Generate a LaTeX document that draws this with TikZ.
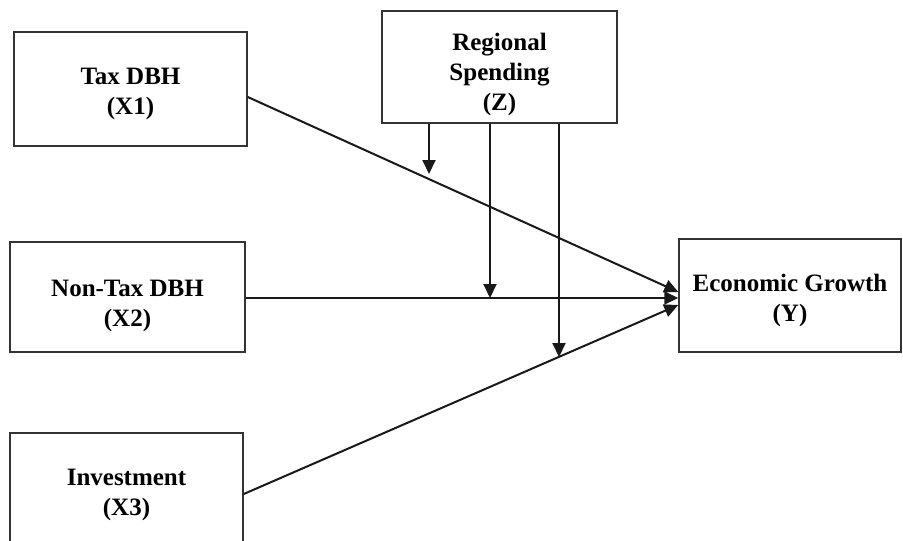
\documentclass[tikz,border=0pt]{standalone}
\usepackage{fontspec}
\setmainfont{Liberation Serif}
\usetikzlibrary{arrows.meta,calc}
\newcommand{\toppad}[1]{\rule{0pt}{#1pt}}
\begin{document}
\begin{tikzpicture}[x=1pt,y=-1pt,
  box/.style={draw=black!80, line width=1.5pt, rectangle, align=center,
    font=\fontsize{25}{30}\selectfont\bfseries, inner sep=0pt},
  arr/.style={draw=black!90, line width=2pt, -{Triangle[length=14pt,width=13pt]}}]
\useasboundingbox (0,0) rectangle (903,541);
\clip (0,0) rectangle (903,541);
\node[box, minimum width=233pt, minimum height=114pt] (X1) at (130.5,89) {\toppad{26.5}Tax DBH\\(X1)};
\node[box, minimum width=235pt, minimum height=112pt] (Z) at (499.5,67) {\toppad{32}Regional\\Spending\\(Z)};
\node[box, minimum width=235pt, minimum height=110pt] (X2) at (127.5,297) {\toppad{34.5}Non-Tax DBH\\(X2)};
\node[box, minimum width=233pt, minimum height=118pt] (X3) at (126.5,492) {\toppad{21.5}Investment\\(X3)};
\node[box, minimum width=222pt, minimum height=113pt] (Y) at (790,295.5) {\toppad{27}Economic Growth\\(Y)};
\draw[arr] ([yshift=-8pt]X1.east) -- ([yshift=3.5pt]Y.west);
\draw[arr] ([yshift=-1pt]X2.east) -- ([yshift=-1pt]X2.east -| Y.west);
\draw[arr] ([yshift=-2pt]X3.east) -- ([yshift=-9.5pt]Y.west);
\coordinate (t1) at (429,174);
\coordinate (t2) at (490,298);
\coordinate (t3) at (559,357);
\draw[arr] (Z.south -| t1) -- (t1);
\draw[arr] (Z.south -| t2) -- (t2);
\draw[arr] (Z.south -| t3) -- (t3);
\end{tikzpicture}
\end{document}
